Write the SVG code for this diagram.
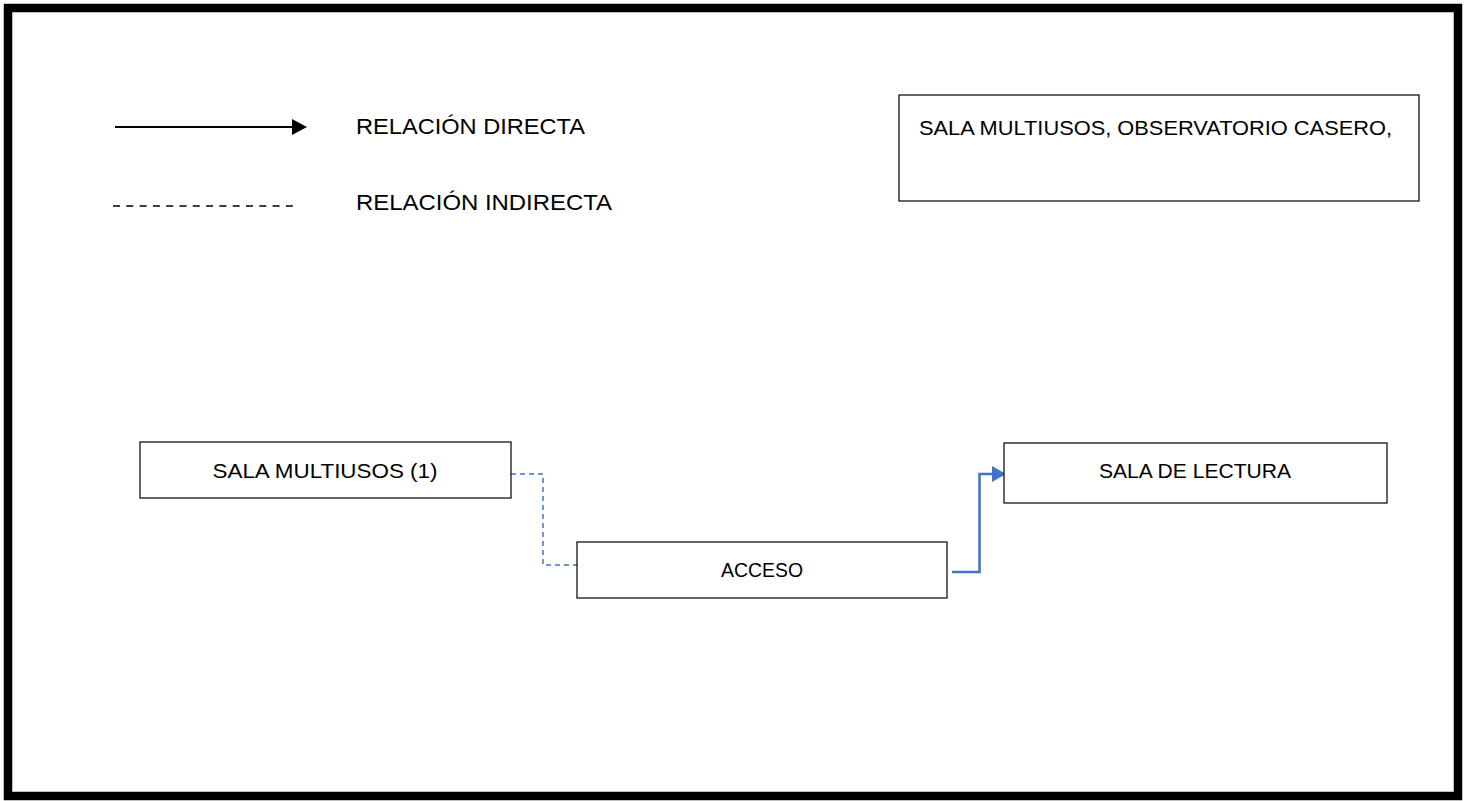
<svg xmlns="http://www.w3.org/2000/svg" width="1470" height="801" viewBox="0 0 1470 801">
<style>
.box{fill:#fff;stroke:#000;stroke-width:1.2}
.t{font-family:"Liberation Sans",Arial,sans-serif;font-size:21px;fill:#000}
.lg{font-family:"Liberation Sans",Arial,sans-serif;font-size:22.5px;fill:#000}
.c{text-anchor:middle}
</style>
<rect x="0" y="0" width="1470" height="801" fill="#fff"/>
<rect x="8" y="8" width="1450" height="788" fill="none" stroke="#000" stroke-width="8.5"/>
<g id="legend">
<line x1="115" y1="127" x2="292" y2="127" stroke="#000" stroke-width="2.2"/>
<path d="M292,119L307,127L292,135z" fill="#000"/>
<line x1="113" y1="206" x2="297" y2="206" stroke="#000" stroke-width="1.5" stroke-dasharray="7,6.3"/>
<text class="lg" x="356" y="134" textLength="229" lengthAdjust="spacingAndGlyphs">RELACIÓN DIRECTA</text>
<text class="lg" x="356" y="210" textLength="256" lengthAdjust="spacingAndGlyphs">RELACIÓN INDIRECTA</text>
</g>
<g id="note">
<rect class="box" x="899" y="95" width="520" height="106"/>
<text class="t" x="919" y="135" textLength="473" lengthAdjust="spacingAndGlyphs">SALA MULTIUSOS, OBSERVATORIO CASERO,</text>
</g>
<g id="connectors">
<path d="M511,474H543V565H577" fill="none" stroke="#4472C4" stroke-width="1.5" stroke-dasharray="5,4"/>
<path d="M952,572H979.5V474H992" fill="none" stroke="#4472C4" stroke-width="2.5"/>
<path d="M992,466L1006,474L992,482z" fill="#4472C4"/>
</g>
<g id="sala-multiusos">
<rect class="box" x="140" y="442" width="371" height="56"/>
<text class="t c" x="325" y="478" textLength="225" lengthAdjust="spacingAndGlyphs">SALA MULTIUSOS (1)</text>
</g>
<g id="acceso">
<rect class="box" x="577" y="542" width="370" height="56"/>
<text class="t c" x="762" y="577" textLength="82" lengthAdjust="spacingAndGlyphs">ACCESO</text>
</g>
<g id="sala-lectura">
<rect class="box" x="1004" y="443" width="383" height="60"/>
<text class="t c" x="1195" y="478" textLength="192" lengthAdjust="spacingAndGlyphs">SALA DE LECTURA</text>
</g>
</svg>
